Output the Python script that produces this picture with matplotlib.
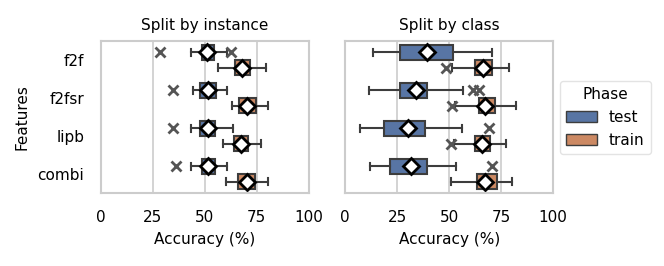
import matplotlib
matplotlib.use("Agg")
import matplotlib.pyplot as plt
from matplotlib.patches import Patch

features = ["f2f", "f2fsr", "lipb", "combi"]
phases = ["test", "train"]
colors = {"test": "#5875a4", "train": "#cc8963"}

# box stats: (whislo, q1, med, q3, whishi, mean, fliers)
instance_test = [
    (43.3, 48.7, 50.8, 54.3, 60.7, 50.8, [28.4, 62.8]),
    (44.1, 47.9, 51.6, 55.3, 60.7, 51.6, [34.8]),
    (43.3, 47.9, 51.3, 54.8, 63.6, 51.3, [34.8]),
    (43.3, 48.4, 51.6, 54.8, 60.9, 51.6, [36.0]),
]
instance_train = [
    (56.1, 64.7, 68.1, 71.6, 79.2, 68.1, []),
    (63.1, 66.5, 70.5, 74.8, 80.4, 70.5, []),
    (58.8, 64.1, 67.3, 70.8, 76.8, 67.3, []),
    (60.0, 66.0, 70.5, 74.0, 80.4, 70.5, []),
]
class_test = [
    (13.1, 26.1, 39.3, 51.8, 70.7, 39.3, []),
    (11.2, 26.1, 34.1, 39.3, 56.6, 34.1, [61.4, 64.1]),
    (6.9, 18.8, 30.1, 38.5, 56.1, 30.1, [69.2]),
    (11.7, 21.6, 31.6, 39.3, 53.4, 31.6, [70.8]),
]
class_train = [
    (51.3, 62.5, 66.5, 70.5, 78.8, 66.5, [48.4]),
    (53.0, 64.1, 67.3, 72.1, 82.1, 67.3, [51.3]),
    (52.3, 62.3, 66.0, 69.8, 77.2, 66.0, [50.8]),
    (50.8, 63.6, 67.3, 73.2, 80.4, 67.3, []),
]

def to_stats(rows):
    out = []
    for lo, q1, med, q3, hi, mean, fl in rows:
        out.append(dict(whislo=lo, q1=q1, med=med, q3=q3, whishi=hi,
                        mean=mean, fliers=fl))
    return out

edge = "#3d3d3d"
grid_c = "#cccccc"
fs = 11

fig = plt.figure(figsize=(6.64, 2.66), dpi=100)
ax1 = fig.add_axes([0.152, 0.274, 0.313, 0.572])
ax2 = fig.add_axes([0.520, 0.274, 0.313, 0.572])

panels = [
    (ax1, "Split by instance", instance_test, instance_train),
    (ax2, "Split by class", class_test, class_train),
]

for ax, title, test, train in panels:
    ax.set_axisbelow(True)
    ax.grid(axis="x", color=grid_c, linewidth=1.2)
    for rows, ph, off in [(test, "test", -0.2), (train, "train", 0.2)]:
        pos = [i + off for i in range(len(features))]
        ax.bxp(to_stats(rows), positions=pos, widths=0.39, vert=False,
               patch_artist=True, showmeans=True, showfliers=True,
               boxprops=dict(facecolor=colors[ph], edgecolor=edge, linewidth=1.5),
               whiskerprops=dict(color=edge, linewidth=1.5),
               capprops=dict(color=edge, linewidth=1.5),
               medianprops=dict(color=edge, linewidth=1.5),
               meanprops=dict(marker="D", markerfacecolor="white",
                              markeredgecolor="black", markersize=8.5,
                              markeredgewidth=2),
               flierprops=dict(marker="x", markeredgecolor="#555555",
                               markersize=7.5, markeredgewidth=2))
    ax.set_xlim(0, 100)
    ax.set_ylim(3.5, -0.5)
    ax.set_xticks([0, 25, 50, 75, 100])
    ax.set_xticklabels(["0", "25", "50", "75", "100"])
    ax.set_xlabel("Accuracy (%)", fontsize=fs, labelpad=5)
    ax.set_title(title, fontsize=fs, pad=8)
    ax.tick_params(axis="x", length=0, labelsize=fs, pad=12)
    ax.tick_params(axis="y", length=0, labelsize=fs, pad=12)
    for s in ax.spines.values():
        s.set_color(grid_c)
        s.set_linewidth(1.5)

ax1.set_yticks(range(len(features)))
ax1.set_yticklabels(features)
ax1.set_ylabel("Features", fontsize=fs, labelpad=6)
ax2.set_yticks(range(len(features)))
ax2.set_yticklabels([])

handles = [Patch(facecolor=colors[p], edgecolor=edge, label=p) for p in phases]
fig.legend(handles=handles, title="Phase", loc="center left",
           bbox_to_anchor=(0.832, 0.558), fontsize=fs, title_fontsize=fs,
           frameon=True, edgecolor="#dddddd")

plt.savefig("out.png", dpi=100)
